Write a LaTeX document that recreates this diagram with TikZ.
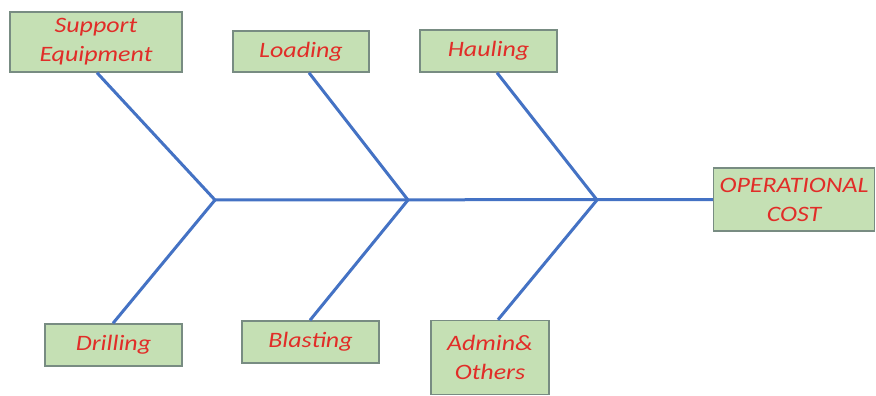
\documentclass[tikz,border=0pt]{standalone}
\usepackage{fontspec}
\setmainfont{Carlito}
\newfontfamily\capfont[FakeStretch=1.18]{Carlito}
\usetikzlibrary{calc}
\definecolor{bonecol}{RGB}{68,114,196}
\definecolor{boxfill}{RGB}{197,224,180}
\definecolor{boxline}{RGB}{120,140,130}
\definecolor{txtred}{RGB}{225,45,40}
\tikzset{
  cause/.style={draw=boxline, line width=1.5pt, fill=boxfill, inner sep=0pt,
    font=\capfont\fontsize{22}{29}\selectfont\itshape, text=txtred, align=center},
  bone/.style={draw=bonecol, line width=3pt}
}
\begin{document}
\begin{tikzpicture}[x=1pt,y=-1pt]
\useasboundingbox (0,0) rectangle (876,396);
\fill[white] (0,0) rectangle (876,396);
% boxes
\node[cause, minimum width=172pt, minimum height=60pt] (se) at (96,42) {Support\\Equipment};
\node[cause, minimum width=136pt, minimum height=41pt] (lo) at (301,51.5) {Loading};
\node[cause, minimum width=137pt, minimum height=42pt] (ha) at (488.5,51) {Hauling};
\node[cause, minimum width=161pt, minimum height=63pt] (oc) at (794,199.5) {OPERATIONAL\\COST};
\node[cause, minimum width=137pt, minimum height=42pt] (dr) at (113.5,345) {Drilling};
\node[cause, minimum width=137pt, minimum height=42pt] (bl) at (310.5,342) {Blasting};
\node[cause, minimum width=118pt, minimum height=74pt] (ad) at (490,357.5) {Admin\&\\Others};
% spine junctions
\coordinate (j1) at (215,200);
\coordinate (j2) at (408,200);
\coordinate (j3) at (597,200);
% spine
\draw[bone] (j1) -- (oc.west);
% branches
\draw[bone] ($(se.south)+(1,0)$) -- (j1);
\draw[bone] (j1) -- ($(dr.north)+(-0.5,0)$);
\draw[bone] ($(lo.south)+(8,0)$) -- (j2);
\draw[bone] (j2) -- ($(bl.north)+(-0.5,0)$);
\draw[bone] ($(ha.south)+(8.5,0)$) -- (j3);
\draw[bone] (j3) -- ($(ad.north)+(8,0)$);
\end{tikzpicture}
\end{document}
